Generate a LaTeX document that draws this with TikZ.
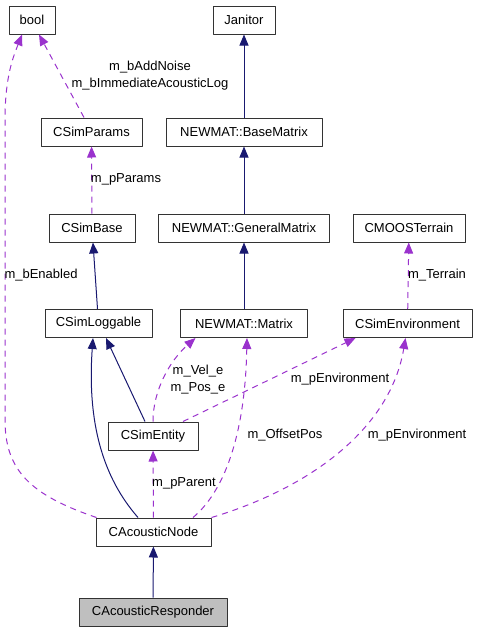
\documentclass[tikz,border=0pt]{standalone}
\usepackage{fontspec}
\setmainfont{Liberation Sans}
\usetikzlibrary{arrows.meta}
\definecolor{midnightblue}{HTML}{191970}
\definecolor{orchid}{HTML}{9A32CD}
\begin{document}
\begin{tikzpicture}[x=1pt,y=-1pt,>={Triangle[length=11pt,width=9pt]},line join=round,
	font=\fontsize{13}{15}\selectfont,
	cls/.style={draw=black!80,line width=1pt,minimum height=28pt,inner sep=0pt},
	inh/.style={->,draw=midnightblue,line width=1pt},
	use/.style={->,draw=orchid,line width=1pt,dash pattern=on 6pt off 5pt},
	lbl/.style={inner sep=0pt,align=center,font=\fontsize{13}{17}\selectfont}]
\useasboundingbox (0,0) rectangle (477,632);
	% classes
	\node[cls,minimum width=46pt] (bool) at (32,20) {bool};
	\node[cls,minimum width=62pt] (janitor) at (244,20) {Janitor};
	\node[cls,minimum width=101pt] (params) at (91.5,132) {CSimParams};
	\node[cls,minimum width=156pt] (basemat) at (244,132) {NEWMAT::BaseMatrix};
	\node[cls,minimum width=86pt] (simbase) at (92,228) {CSimBase};
	\node[cls,minimum width=171pt] (genmat) at (244,228) {NEWMAT::GeneralMatrix};
	\node[cls,minimum width=112pt] (terrain) at (409,228) {CMOOSTerrain};
	\node[cls,minimum width=107pt] (loggable) at (98.5,323.5) {CSimLoggable};
	\node[cls,minimum width=127pt] (matrix) at (244,323.5) {NEWMAT::Matrix};
	\node[cls,minimum width=129pt] (environ) at (407.5,323.5) {CSimEnvironment};
	\node[cls,minimum width=90pt] (entity) at (153,436) {CSimEntity};
	\node[cls,minimum width=115pt] (acnode) at (153.5,532) {CAcousticNode};
	\node[cls,minimum width=148pt,fill=black!25] (responder) at (153,612) {CAcousticResponder};
	% inheritance
	\draw[inh] (basemat) -- (janitor);
	\draw[inh] (genmat) -- (basemat);
	\draw[inh] (matrix) -- (genmat);
	\draw[inh] (loggable) -- (simbase);
	\draw[inh] ([xshift=-8pt]entity.north) -- ([xshift=7.5pt]loggable.south);
	\draw[inh] ([xshift=-15.5pt]acnode.north) .. controls +(-35,-40) and +(-6,85) .. ([xshift=-5.5pt]loggable.south);
	\draw[inh] (responder) -- (acnode);
	% members
	\draw[use] ([xshift=-7.5pt]params.north) -- ([xshift=7pt]bool.south);
	\draw[use] ([xshift=1pt]acnode.north west) .. controls (30,495) and (5,470) .. (5,420) -- (5,120)
		.. controls (5,75) and (14,55) .. ([xshift=-10pt]bool.south);
	\draw[use] (simbase) -- (params);
	\draw[use] (environ) -- (terrain);
	\draw[use] (entity.north) .. controls +(0,-32) and +(-25,22) .. ([xshift=-48.5pt]matrix.south);
	\draw[use] ([xshift=30pt]entity.north) -- ([xshift=-52pt]environ.south);
	\draw[use] (acnode) -- (entity);
	\draw[use] ([xshift=39.5pt]acnode.north) .. controls +(30,-25) and +(-2,100) .. ([xshift=3pt]matrix.south);
	\draw[use] (acnode.north east) .. controls +(100,-30) and +(-15,90) .. ([xshift=-2pt]environ.south);
	% labels
	\node[lbl] (lnoise) at (150,75.5) {m\_bAddNoise\\m\_bImmediateAcousticLog};
	\node[lbl] (lparams) at (126,179) {m\_pParams};
	\node[lbl] (lenabled) at (41,275) {m\_bEnabled};
	\node[lbl] (lterrain) at (437,275) {m\_Terrain};
	\node[lbl] (lvelpos) at (198,379.5) {m\_Vel\_e\\m\_Pos\_e};
	\node[lbl] (lenvone) at (340,379) {m\_pEnvironment};
	\node[lbl] (loffset) at (285,435) {m\_OffsetPos};
	\node[lbl] (lenvtwo) at (417,435) {m\_pEnvironment};
	\node[lbl] (lparent) at (184,483) {m\_pParent};
\end{tikzpicture}
\end{document}
